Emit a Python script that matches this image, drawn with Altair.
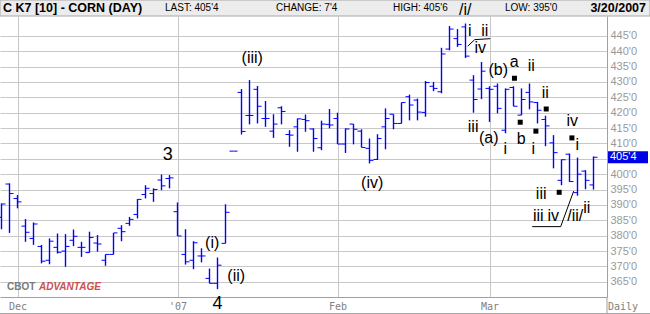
import altair as alt
import pandas as pd

dates = [
    "2006-11-29", "2006-11-30", "2006-12-01", "2006-12-04", "2006-12-05", "2006-12-06", "2006-12-07",
    "2006-12-08", "2006-12-11", "2006-12-12", "2006-12-13", "2006-12-14", "2006-12-15", "2006-12-18",
    "2006-12-19", "2006-12-20", "2006-12-21", "2006-12-22", "2006-12-26", "2006-12-27", "2006-12-28",
    "2006-12-29", "2007-01-03", "2007-01-04", "2007-01-05", "2007-01-08", "2007-01-09", "2007-01-10",
    "2007-01-11", "2007-01-12", "2007-01-16", "2007-01-17", "2007-01-18", "2007-01-19", "2007-01-22",
    "2007-01-23", "2007-01-24", "2007-01-25", "2007-01-26", "2007-01-29", "2007-01-30", "2007-01-31",
    "2007-02-01", "2007-02-02", "2007-02-05", "2007-02-06", "2007-02-07", "2007-02-08", "2007-02-09",
    "2007-02-12", "2007-02-13", "2007-02-14", "2007-02-15", "2007-02-16", "2007-02-20", "2007-02-21",
    "2007-02-22", "2007-02-23", "2007-02-26", "2007-02-27", "2007-02-28", "2007-03-01", "2007-03-02",
    "2007-03-05", "2007-03-06", "2007-03-07", "2007-03-08", "2007-03-09", "2007-03-12", "2007-03-13",
    "2007-03-14", "2007-03-15", "2007-03-16", "2007-03-19", "2007-03-20",
]
opens = [
    386.0, 396.8, 392.1, 383.1, 379.1, 376.5, 372.0, 376.2, 375.0, 378.5, 376.2, 374.5, 377.6, 372.0,
    373.9, 382.4, 384.0, 386.9, 393.4, 393.7, 398.1, 398.6, 387.8, 373.9, 372.0, 373.4, 366.1, 364.5,
    377.5, 407.5, 426.6, 419.1, 427.6, 418.1, 414.0, 421.6, 412.9, 415.4, 417.8, 414.7, 408.6, 416.2,
    418.1, 409.8, 416.3, 414.0, 408.4, 404.8, 415.4, 419.5, 416.5, 425.2, 424.1, 420.1, 428.6, 426.8,
    440.7, 444.1, 447.9, 430.6, 427.7, 427.9, 428.6, 414.3, 428.2, 419.2, 426.6, 423.3, 417.8, 410.2,
    398.0, 406.5, 394.0, 401.0, 396.5,
]
highs = [
    390.5, 397.0, 393.2, 385.4, 384.3, 377.0, 379.1, 380.7, 380.5, 382.0, 378.0, 381.3, 380.2, 373.9,
    380.9, 383.4, 386.1, 391.9, 396.4, 395.4, 399.9, 399.7, 390.8, 382.1, 378.2, 375.9, 369.3, 372.9,
    390.2, 407.5, 427.7, 430.6, 428.7, 423.8, 419.5, 422.1, 414.3, 418.1, 419.4, 414.9, 417.4, 421.2,
    420.0, 414.9, 416.3, 414.6, 411.6, 413.0, 421.4, 419.5, 423.3, 425.9, 424.6, 430.3, 430.0, 441.1,
    448.2, 447.2, 449.0, 432.2, 436.5, 428.6, 429.5, 427.9, 428.6, 427.9, 429.5, 423.5, 419.0, 412.7,
    404.8, 406.7, 405.4, 401.3, 405.75,
]
lows = [
    382.1, 380.9, 388.9, 378.0, 377.0, 371.0, 370.7, 374.2, 369.9, 376.6, 373.1, 374.5, 374.8, 370.2,
    373.9, 378.2, 383.2, 385.6, 392.1, 391.0, 394.8, 395.4, 379.9, 370.6, 369.1, 371.3, 364.5, 362.6,
    377.5, 407.5, 412.9, 416.2, 416.5, 415.4, 411.8, 416.2, 408.9, 407.3, 413.8, 407.3, 407.8, 414.9,
    409.8, 406.9, 409.7, 408.7, 403.5, 404.6, 408.1, 414.6, 416.5, 417.5, 417.5, 418.7, 427.0, 426.3,
    440.3, 441.4, 437.8, 420.0, 424.4, 417.0, 419.8, 413.3, 422.1, 419.2, 421.1, 416.5, 409.1, 401.9,
    396.4, 397.5, 393.0, 395.1, 395.0,
]
closes = [
    390.3, 393.7, 391.0, 381.1, 383.8, 371.7, 378.2, 374.6, 376.5, 379.8, 376.2, 379.4, 377.3, 373.9,
    380.9, 381.3, 385.3, 391.8, 395.4, 395.0, 396.2, 398.8, 379.9, 371.5, 377.7, 373.4, 364.5, 370.4,
    387.6, 407.5, 413.9, 419.1, 422.1, 418.1, 416.3, 420.4, 412.7, 418.0, 417.4, 411.6, 416.3, 416.0,
    409.8, 414.7, 414.6, 408.7, 404.5, 411.6, 418.1, 416.5, 423.3, 422.5, 420.2, 429.8, 427.9, 439.1,
    447.2, 442.2, 438.4, 424.3, 433.5, 427.6, 421.4, 427.6, 422.1, 424.3, 423.5, 420.8, 415.7, 407.0,
    404.7, 397.6, 400.0, 398.0, 405.5,
]

month_labels = ["Dec", "'07", "Feb", "Mar"]
month_starts = ["2006-12-01", "2007-01-03", "2007-02-01", "2007-03-01"]
price_ticks = list(range(365, 450, 5))

# Elliott-wave annotations: text, trading-day position, price
ann_text = ["(i)", "(ii)", "(iii)", "(iv)", "/i/", "i", "ii", "iv", "(b)", "a", "ii", "ii",
            "iii", "(a)", "i", "b", "i", "iv", "i", "iii", "iii", "iv", "/ii/", "ii"]
ann_pos = [26.34, 29.34, 31.34, 46.34, 57.96, 58.53, 60.4, 59.84, 62.09, 64.09, 66.21, 67.96,
           58.95, 60.9, 62.96, 64.96, 66.46, 71.34, 71.96, 67.46, 67.09, 68.96, 71.71, 73.15]
ann_price = [377.6, 366.85, 437.7, 397.1, 453.35, 446.5, 446.5, 441.0, 433.8, 436.4, 435.1, 426.4,
             415.5, 411.9, 408.15, 411.4, 408.15, 417.25, 409.45, 393.5, 386.35, 386.35, 386.35, 388.96]
big_text = ["3", "4"]
big_pos = [20.78, 27.0]
big_price = [406.2, 357.7]
sq_pos = [64.12, 68.09, 64.84, 66.8, 71.3, 69.71]
sq_price = [431.2, 421.2, 416.9, 414.0, 411.8, 394.1]
line_group = ["a", "a", "a", "b", "b", "b"]
line_pos = [58.28, 59.15, 61.09, 66.34, 69.9, 71.52]
line_price = [441.64, 443.76, 444.08, 382.94, 382.94, 394.49]


def eighths(v):
    w = int(v)
    f = int(round((v - w) * 8))
    if f == 8:
        w, f = w + 1, 0
    return f"{w}'{f}"


n = len(dates)
df = pd.DataFrame({"i": list(range(n)), "date": dates, "open": opens, "high": highs,
                   "low": lows, "close": closes})
last = df.tail(1).copy()
last["label"] = [eighths(closes[-1])]
ann = pd.DataFrame({"t": ann_text, "i": ann_pos, "p": ann_price})
big = pd.DataFrame({"t": big_text, "i": big_pos, "p": big_price})
sq = pd.DataFrame({"i": sq_pos, "p": sq_price})
lines = pd.DataFrame({"g": line_group, "i": line_pos, "p": line_price, "o": list(range(len(line_pos)))})
one = pd.DataFrame({"k": [0]})

month_idx = [dates.index(d) for d in month_starts]
label_expr = " : ".join(f'datum.value == {k} ? "{l}"' for k, l in zip(month_idx, month_labels)) + ' : ""'
# the tick label nearest the last close is hidden under the highlighted last-price box
hidden_tick = int(round(closes[-1] / 5.0) * 5)

W, H = 607, 281
BLUE = "#0000ff"
xs = alt.Scale(domain=[-0.1875, 75.6875], nice=False, zero=False, padding=0)
ys = alt.Scale(domain=[360.05, 451.45], nice=False, zero=False, padding=0)

x_axis = alt.Axis(values=month_idx, labelExpr=label_expr, grid=True, gridColor="#c8c8c8",
                  ticks=False, domainColor="#a0a0a0", labelFont="DejaVu Sans Mono", labelFontSize=10,
                  labelColor="#808080", labelPadding=4, title=None, labelAngle=0,
                  labelFlush=False, labelOverlap=False)
y_axis = alt.Axis(orient="right", values=price_ticks,
                  labelExpr=f"datum.value == {hidden_tick} ? '' : datum.value + \"'0\"", grid=True,
                  gridColor="#c8c8c8", ticks=False, domainColor="#a0a0a0", labelFont="Liberation Sans",
                  labelFontSize=11, labelColor="#999999", labelPadding=3, title=None)


def X(f):
    return alt.X(f, type="quantitative", scale=xs, axis=x_axis)


def Y(f):
    return alt.Y(f, type="quantitative", scale=ys, axis=y_axis)


def fixed_text(text, x, y, **kw):
    return alt.Chart(one).mark_text(**kw).encode(x=alt.value(x), y=alt.value(y), text=alt.value(text))


header = alt.Chart(one).mark_rect(fill="#ececec", stroke="#a8a8a8", strokeWidth=1).encode(
    x=alt.value(0), x2=alt.value(650), y=alt.value(-16), y2=alt.value(0))

# high-low range drawn as thin filled bars
bars = alt.Chart(df).mark_bar(color=BLUE, width=1.4, opacity=1).encode(
    x=X("i"), y=Y("low"), y2="high:Q")
open_t = alt.Chart(df).mark_tick(orient="horizontal", size=4, thickness=1, xOffset=-2, color=BLUE,
                                 opacity=1).encode(x=X("i"), y=Y("open"))
close_t = alt.Chart(df).mark_tick(orient="horizontal", size=4, thickness=1, xOffset=2, color=BLUE,
                                  opacity=1).encode(x=X("i"), y=Y("close"))

ann_l = alt.Chart(ann).mark_text(font="Liberation Sans", fontSize=16, color="black",
                                 baseline="middle", align="center").encode(x=X("i"), y=Y("p"), text="t:N")
big_l = alt.Chart(big).mark_text(font="Liberation Sans", fontSize=18, color="black",
                                 baseline="middle", align="center").encode(x=X("i"), y=Y("p"), text="t:N")
sq_l = alt.Chart(sq).mark_square(size=25, color="black", opacity=1, filled=True).encode(x=X("i"), y=Y("p"))
line_l = alt.Chart(lines).mark_line(color="black", strokeWidth=1).encode(
    x=X("i"), y=Y("p"), detail="g:N", order="o:Q")

last_box = alt.Chart(last).mark_tick(orient="horizontal", size=40, thickness=12, color="#0000e6",
                                     opacity=1).encode(x=alt.value(628), y=Y("close"))
last_txt = alt.Chart(last).mark_text(font="Liberation Sans", fontSize=11, color="white", align="left",
                                     baseline="middle").encode(x=alt.value(610), y=Y("close"), text="label:N")

right_ext = alt.Chart(one).mark_rule(color="#a0a0a0").encode(
    x=alt.value(607), y=alt.value(281), y2=alt.value(298))
bottom_line = alt.Chart(one).mark_rule(color="#a8a8a8").encode(
    x=alt.value(0), x2=alt.value(650), y=alt.value(297.5))

chg = closes[-1] - closes[-2]
htexts = [
    fixed_text("C K7 [10] - CORN (DAY)", 3, -8, font="Liberation Sans", fontSize=12.5, fontWeight="bold",
               align="left", baseline="middle", color="black"),
    fixed_text("LAST: " + eighths(closes[-1]), 165, -8, font="Liberation Sans", fontSize=10,
               align="left", baseline="middle", color="black"),
    fixed_text("CHANGE: " + eighths(chg), 276, -8, font="Liberation Sans", fontSize=10,
               align="left", baseline="middle", color="black"),
    fixed_text("HIGH: " + eighths(highs[-1]), 393, -8, font="Liberation Sans", fontSize=10,
               align="left", baseline="middle", color="black"),
    fixed_text("LOW: " + eighths(lows[-1]), 505, -8, font="Liberation Sans", fontSize=10,
               align="left", baseline="middle", color="black"),
    fixed_text("3/20/2007", 646, -8, font="Liberation Sans", fontSize=12.5, fontWeight="bold",
               align="right", baseline="middle", color="black"),
    fixed_text("Daily", 623, 291, font="DejaVu Sans Mono", fontSize=10, align="center",
               baseline="middle", color="#808080"),
    fixed_text("CBOT", 7, 271, font="Liberation Sans", fontSize=10, fontWeight="bold", align="left",
               baseline="middle", color="#7a7a7a"),
    fixed_text("ADVANTAGE", 39, 271, font="Liberation Sans", fontSize=10, fontWeight="bold",
               fontStyle="italic", align="left", baseline="middle", color="#cc5050"),
]

chart = alt.layer(
    header, bars, open_t, close_t, line_l, sq_l, ann_l, big_l, last_box, last_txt,
    right_ext, bottom_line, *htexts
).properties(
    width=W, height=H,
    padding={"left": 0, "top": 16, "right": 43, "bottom": 17},
    autosize=alt.AutoSizeParams(type="none"),
    background="white",
).configure_view(stroke=None)

chart.save("out.html", embed_options={"renderer": "svg", "actions": False})
